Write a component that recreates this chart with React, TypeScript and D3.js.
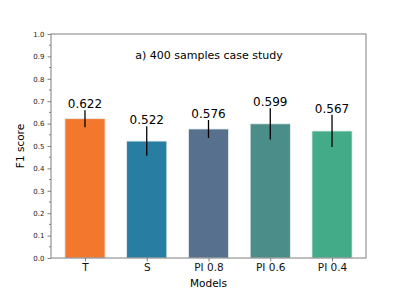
import React, { useRef, useEffect } from "react";
import * as d3 from "d3";

const models = ["T", "S", "PI 0.8", "PI 0.6", "PI 0.4"];
const f1Scores = [0.622, 0.522, 0.576, 0.599, 0.567];
const errors = [0.038, 0.066, 0.04, 0.07, 0.072];
const barColors = ["#f4772e", "#287da2", "#56708e", "#4a8d89", "#44ab88"];
const yTicks = [0, 0.1, 0.2, 0.3, 0.4, 0.5, 0.6, 0.7, 0.8, 0.9, 1.0];

function App() {
  const svgRef = useRef<SVGSVGElement>(null);

  useEffect(() => {
    const svg = d3.select(svgRef.current);
    svg.selectAll("*").remove();
    const width = 407;
    const height = 291;
    const margin = { top: 34, right: 41, bottom: 33, left: 51 };
    const innerWidth = width - margin.left - margin.right;
    const innerHeight = height - margin.top - margin.bottom;
    const font = "DejaVu Sans, sans-serif";

    svg.attr("width", width).attr("height", height);

    const data = models.map((m, i) => ({ model: m, value: f1Scores[i], err: errors[i], color: barColors[i] }));

    const xScale = d3.scaleLinear().domain([-0.55, 4.55]).range([0, innerWidth]);
    const yScale = d3.scaleLinear().domain([0, 1]).range([innerHeight, 0]);
    const barW = 0.65;

    const g = svg.append("g").attr("transform", `translate(${margin.left},${margin.top})`);

    g.selectAll("rect.bar")
      .data(data)
      .enter()
      .append("rect")
      .attr("class", "bar")
      .attr("x", (d, i) => xScale(i - barW / 2))
      .attr("y", (d) => yScale(d.value))
      .attr("width", xScale(barW) - xScale(0))
      .attr("height", (d) => innerHeight - yScale(d.value))
      .attr("fill", (d) => d.color)
      .attr("stroke", "#e6eef0")
      .attr("stroke-width", 0.8);

    g.selectAll("line.err")
      .data(data)
      .enter()
      .append("line")
      .attr("x1", (d, i) => xScale(i))
      .attr("x2", (d, i) => xScale(i))
      .attr("y1", (d) => yScale(d.value - d.err))
      .attr("y2", (d) => yScale(d.value + d.err))
      .attr("stroke", "#000")
      .attr("stroke-width", 1.3);

    g.selectAll("text.val")
      .data(data)
      .enter()
      .append("text")
      .attr("x", (d, i) => xScale(i))
      .attr("y", (d) => yScale(d.value + d.err) - 2)
      .attr("text-anchor", "middle")
      .attr("font-family", font)
      .attr("font-size", 12)
      .text((d) => d.value.toFixed(3));

    // frame
    g.append("rect")
      .attr("x", 0)
      .attr("y", 0)
      .attr("width", innerWidth)
      .attr("height", innerHeight)
      .attr("fill", "none")
      .attr("stroke", "#7f7f7f")
      .attr("stroke-width", 1);

    const yAxis = d3.axisLeft(yScale).tickValues(yTicks).tickFormat(d3.format(".1f")).tickSize(3.5).tickPadding(3);
    const yg = g.append("g").call(yAxis);
    yg.select(".domain").remove();
    yg.selectAll("line").attr("stroke", "#7f7f7f");
    yg.selectAll("text").attr("font-family", font).attr("font-size", 7).attr("fill", "#222");

    const minor = d3.range(0.05, 1, 0.1);
    g.selectAll("line.minor")
      .data(minor)
      .enter()
      .append("line")
      .attr("x1", -2)
      .attr("x2", 0)
      .attr("y1", (d) => yScale(d))
      .attr("y2", (d) => yScale(d))
      .attr("stroke", "#7f7f7f");

    const xAxis = d3
      .axisBottom(xScale)
      .tickValues(d3.range(models.length))
      .tickFormat((i) => models[i as number])
      .tickSize(3.5)
      .tickPadding(2);
    const xg = g.append("g").attr("transform", `translate(0,${innerHeight})`).call(xAxis);
    xg.select(".domain").remove();
    xg.selectAll("line").attr("stroke", "#7f7f7f");
    xg.selectAll("text").attr("font-family", font).attr("font-size", 10.5).attr("fill", "#111");

    g.append("text")
      .attr("x", innerWidth / 2)
      .attr("y", innerHeight + 29)
      .attr("text-anchor", "middle")
      .attr("font-family", font)
      .attr("font-size", 10.5)
      .text("Models");

    g.append("text")
      .attr("transform", `translate(${-27},${innerHeight / 2}) rotate(-90)`)
      .attr("text-anchor", "middle")
      .attr("font-family", font)
      .attr("font-size", 10.5)
      .text("F1 score");

    g.append("text")
      .attr("x", innerWidth / 2 + 0.5)
      .attr("y", 25)
      .attr("text-anchor", "middle")
      .attr("font-family", font)
      .attr("font-size", 11)
      .text("a) 400 samples case study");
  }, []);

  return <svg ref={svgRef} style={{ position: "absolute", left: 0, top: 0 }}></svg>;
}

export default App;
